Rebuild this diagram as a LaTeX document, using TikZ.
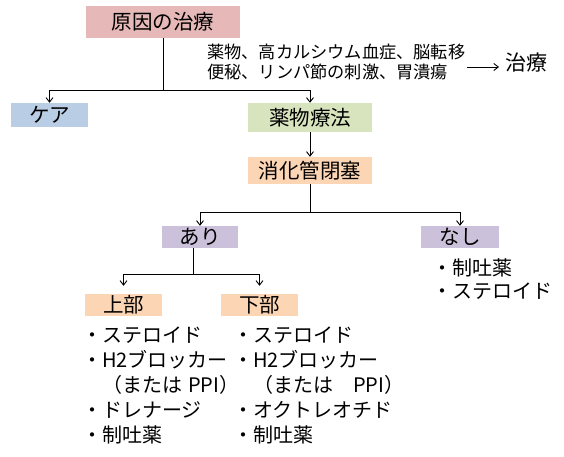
\documentclass[tikz,border=0pt]{standalone}
\usepackage{fontspec}
\setmainfont{Noto Sans CJK JP}
\usetikzlibrary{arrows.meta,positioning,calc}
\definecolor{rose}{HTML}{E6B9B8}
\definecolor{skyblue}{HTML}{B9CDE5}
\definecolor{sage}{HTML}{D7E4BD}
\definecolor{peach}{HTML}{FCD5B5}
\definecolor{lilac}{HTML}{CCC1DA}
\tikzset{
  box/.style={inner sep=0pt,font=\fontsize{20.5}{24}\selectfont,text=black},
  note/.style={font=\fontsize{17.2}{20}\selectfont,align=left,inner sep=2pt},
  list/.style={font=\fontsize{20}{25}\selectfont,align=left,inner sep=0pt,anchor=west},
  link/.style={draw=black,line width=0.9pt},
  arr/.style={-{Straight Barb[length=4.5pt,width=7pt]},draw=black,line width=0.9pt}
}
\begin{document}
\begin{tikzpicture}[x=1pt,y=-1pt]
\path[use as bounding box] (0,0) rectangle (564,456);
\node[box,fill=rose,minimum width=154pt,minimum height=32pt] (cause) at (163,22) {原因の治療};
\node[box,fill=skyblue,minimum width=77pt,minimum height=24pt] (care) at (49.5,115) {ケア};
\node[box,fill=sage,minimum width=124pt,minimum height=29pt] (drug) at (310,117.5) {薬物療法};
\node[box,fill=peach,minimum width=124pt,minimum height=27pt] (obst) at (310,170.5) {消化管閉塞};
\node[box,fill=lilac,minimum width=76pt,minimum height=22pt] (yes) at (200,237) {あり};
\node[box,fill=lilac,minimum width=78pt,minimum height=22pt] (no) at (460,237) {なし};
\node[box,fill=peach,minimum width=77pt,minimum height=22pt] (upper) at (123.5,305) {上部};
\node[box,fill=peach,minimum width=77pt,minimum height=22pt] (lower) at (259.5,305) {下部};
\node[note,anchor=west] (notes) at (205,62) {薬物、高カルシウム血症、脳転移\\便秘、リンパ節の刺激、胃潰瘍};
\node[box,font=\fontsize{21}{24}\selectfont,anchor=west,inner sep=6pt] (treat) at (499,63) {治療};
\node[list] (uplist) at (82,385) {・ステロイド\\・H2ブロッカー\\　（または\hspace{0.3em}PPI）\\・ドレナージ\\・制吐薬};
\node[list] (lowlist) at (233,385) {・ステロイド\\・H2ブロッカー\\　（または　PPI）\\・オクトレオチド\\・制吐薬};
\node[list,font=\fontsize{20}{23}\selectfont] (nolist) at (432,279) {・制吐薬\\・ステロイド};
\coordinate (j1) at (164,90);
\coordinate (j2) at (310,212);
\coordinate (j3) at (193,274);
\draw[link] (cause.south) -- (cause.south |- j1);
\draw[arr] (cause.south |- j1) -| (care.north);
\draw[arr] (cause.south |- j1) -| (drug.north);
\draw[arr] (drug.south) -- (obst.north);
\draw[link] (obst.south) -- (obst.south |- j2);
\draw[arr] (obst.south |- j2) -| (yes.north);
\draw[arr] (obst.south |- j2) -| (no.north);
\draw[link] (yes.south -| j3) -- (j3);
\draw[arr,shorten >=8pt] (j3) -| (upper.north);
\draw[arr,shorten >=8pt] (j3) -| (lower.north);
\draw[arr] ([yshift=-5pt]notes.east) -- ([yshift=-4pt]treat.west);
\end{tikzpicture}
\end{document}
